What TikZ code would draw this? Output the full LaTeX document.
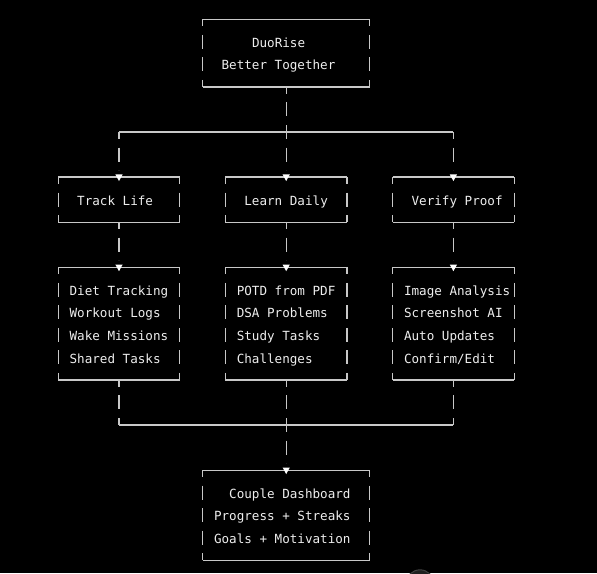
\documentclass[tikz,border=0pt]{standalone}
\usepackage{fontspec}
\setmonofont{DejaVu Sans Mono}
\definecolor{linec}{HTML}{C8C8C8}
\definecolor{textc}{HTML}{EEEEEE}
\newcommand\abox[1]{%
  \draw[hl] (#1.north west) -- (#1.north east) (#1.south west) -- (#1.south east);
  \draw[asc] (#1.north west) -- (#1.south west);
  \draw[asc] (#1.north east) -- (#1.south east);}
\newcommand\dtri[1]{%
  \fill[white] ([shift={(-3.6,-2.6)}]#1) -- ([shift={(3.6,-2.6)}]#1) -- ([shift={(0,4)}]#1) -- cycle;}
\begin{document}
\begin{tikzpicture}[x=1pt,y=-1pt,
  hl/.style={draw=linec, line width=1.2pt},
  asc/.style={draw=linec, line width=1.2pt, dash pattern=on 14pt off 8.54pt, dash phase=7pt},
  boxarea/.style={rectangle, inner sep=0pt, outer sep=0pt, draw=none},
  txt/.style={anchor=base west, inner sep=0pt, outer sep=0pt, text=textc, font=\ttfamily\fontsize{12.6}{15}\selectfont},
  shift={(0,0.8)}]
\fill[black] (0,-0.8) rectangle (597,572.2);
\useasboundingbox (0,-0.8) rectangle (597,572.2);
% faint artifact circle at the bottom
\draw[draw=black!75!white, fill=black!88!white, line width=1pt] (420,583) circle (14);
% boxes
\node[boxarea, minimum width=167.2pt, minimum height=67.62pt] (top) at (286.2,52.31) {};
\node[boxarea, minimum width=121.6pt, minimum height=45.08pt] (track) at (119,198.82) {};
\node[boxarea, minimum width=121.6pt, minimum height=45.08pt] (learn) at (286.2,198.82) {};
\node[boxarea, minimum width=121.6pt, minimum height=45.08pt] (verify) at (453.4,198.82) {};
\node[boxarea, minimum width=121.6pt, minimum height=112.7pt] (list1) at (119,322.79) {};
\node[boxarea, minimum width=121.6pt, minimum height=112.7pt] (list2) at (286.2,322.79) {};
\node[boxarea, minimum width=121.6pt, minimum height=112.7pt] (list3) at (453.4,322.79) {};
\node[boxarea, minimum width=167.2pt, minimum height=90.16pt] (final) at (286.2,514.38) {};
\abox{top}\abox{track}\abox{learn}\abox{verify}
\abox{list1}\abox{list2}\abox{list3}\abox{final}
% texts
\node[txt] (t0) at (252.0,46.64) {DuoRise};
\node[txt] (t1) at (221.6,69.18) {Better Together};
\node[txt] (a0) at (77.2,204.42) {Track Life};
\node[txt] (b0) at (244.4,204.42) {Learn Daily};
\node[txt] (c0) at (411.6,204.42) {Verify Proof};
\node[txt] (a1) at (69.6,294.58) {Diet Tracking};
\node[txt] (a2) at (69.6,317.12) {Workout Logs};
\node[txt] (a3) at (69.6,339.66) {Wake Missions};
\node[txt] (a4) at (69.6,362.20) {Shared Tasks};
\node[txt] (b1) at (236.8,294.58) {POTD from PDF};
\node[txt] (b2) at (236.8,317.12) {DSA Problems};
\node[txt] (b3) at (236.8,339.66) {Study Tasks};
\node[txt] (b4) at (236.8,362.20) {Challenges};
\node[txt] (c1) at (404.0,294.58) {Image Analysis};
\node[txt] (c2) at (404.0,317.12) {Screenshot AI};
\node[txt] (c3) at (404.0,339.66) {Auto Updates};
\node[txt] (c4) at (404.0,362.20) {Confirm/Edit};
\node[txt] (f1) at (229.2,497.44) {Couple Dashboard};
\node[txt] (f2) at (214.0,519.98) {Progress + Streaks};
\node[txt] (f3) at (214.0,542.52) {Goals + Motivation};
% junctions
\coordinate (j1) at (286.2,131.2);
\coordinate (j2) at (286.2,424.22);
% connectors
\draw[asc, shorten >=7pt] (top.south) -- (learn.north);
\draw[hl] (j1 -| track.north) -- (j1 -| verify.north);
\draw[asc, shorten >=7pt] (j1 -| track.north) -- (track.north);
\draw[asc, shorten >=7pt] (j1 -| verify.north) -- (verify.north);
\draw[asc, shorten >=7pt] (track.south) -- (list1.north);
\draw[asc, shorten >=7pt] (learn.south) -- (list2.north);
\draw[asc, shorten >=7pt] (verify.south) -- (list3.north);
\draw[asc] (list1.south) -- (j2 -| list1.south);
\draw[asc] (list3.south) -- (j2 -| list3.south);
\draw[hl] (j2 -| list1.south) -- (j2 -| list3.south);
\draw[asc, shorten >=7pt] (list2.south) -- (final.north);
% arrow heads
\dtri{track.north}\dtri{learn.north}\dtri{verify.north}
\dtri{list1.north}\dtri{list2.north}\dtri{list3.north}
\dtri{final.north}
\end{tikzpicture}
\end{document}
